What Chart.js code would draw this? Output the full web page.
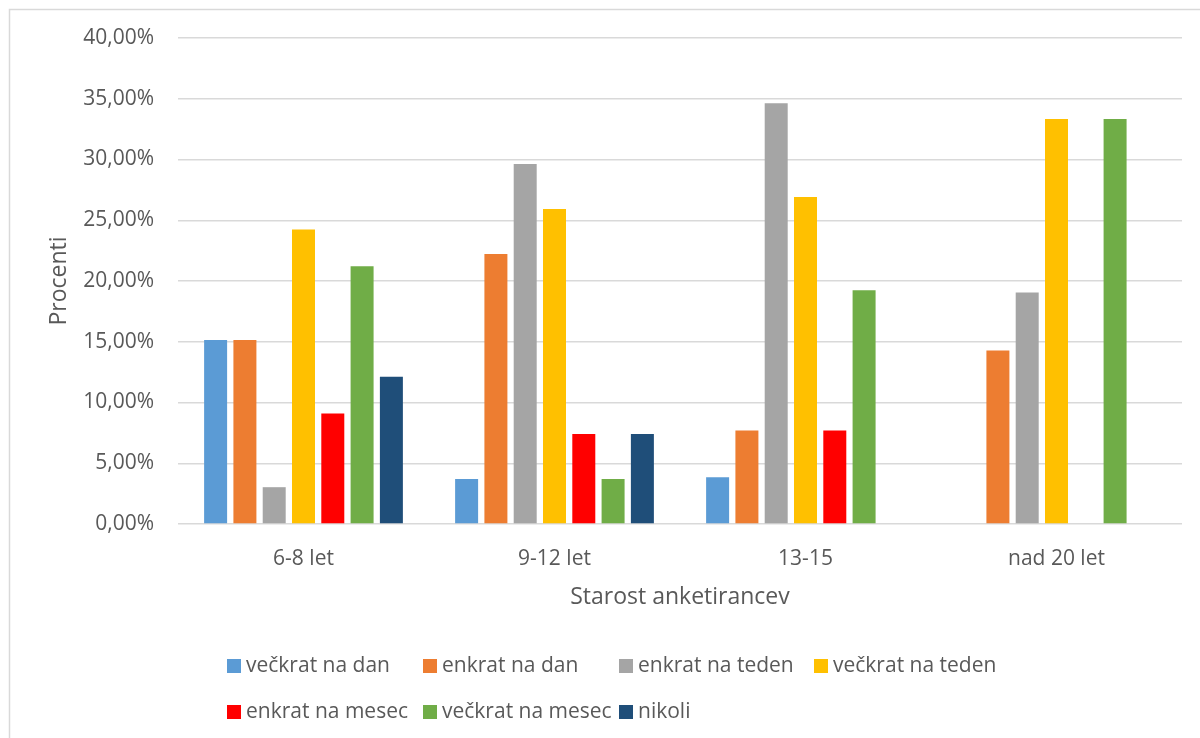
<!DOCTYPE html>
<html>
<head>
<meta charset="utf-8">
<script src="https://cdn.jsdelivr.net/npm/chart.js@4.4.1/dist/chart.umd.min.js"></script>
<style>
  html, body { margin: 0; padding: 0; background: #ffffff; }
  #graf { display: block; }
</style>
</head>
<body>
<canvas id="graf" width="1200" height="738"></canvas>
<script>
// starostne skupine
const skupine = ["6-8 let", "9-12 let", "13-15", "nad 20 let"];

// pogostost (odstotki anketirancev v skupini)
const veckratNaDan   = [15.15, 3.70, 3.85, 0];
const enkratNaDan    = [15.15, 22.22, 7.69, 14.29];
const enkratNaTeden  = [3.03, 29.63, 34.62, 19.05];
const veckratNaTeden = [24.24, 25.93, 26.92, 33.33];
const enkratNaMesec  = [9.09, 7.41, 7.69, 0];
const veckratNaMesec = [21.21, 3.70, 19.23, 33.33];
const nikoli         = [12.12, 7.41, 0, 0];

const oznake = ["večkrat na dan", "enkrat na dan", "enkrat na teden", "večkrat na teden",
                "enkrat na mesec", "večkrat na mesec", "nikoli"];
const barve = ["#5B9BD5", "#ED7D31", "#A5A5A5", "#FFC000", "#FF0000", "#70AD47", "#1F4E79"];
const vrednosti = [veckratNaDan, enkratNaDan, enkratNaTeden, veckratNaTeden,
                   enkratNaMesec, veckratNaMesec, nikoli];

const pisava = "'Open Sans', sans-serif";
const siva = "#595959";

// okvir okrog grafa
const okvir = {
    id: "okvir",
    beforeDraw(chart) {
        const ctx = chart.ctx;
        ctx.save();
        ctx.fillStyle = "#ffffff";
        ctx.fillRect(0, 0, chart.width, chart.height);
        ctx.strokeStyle = "#d9d9d9";
        ctx.lineWidth = 1.5;
        ctx.strokeRect(9.5, 9.5, 1400, 900);
        ctx.restore();
    }
};

// legenda v dveh vrsticah pod grafom, stolpci so enako široki
const legenda = {
    id: "legenda",
    afterDraw(chart) {
        const ctx = chart.ctx;
        const stolpci = [227, 423, 619, 814];
        const vrstice = [666, 712];
        ctx.save();
        ctx.font = "21px " + pisava;
        ctx.textBaseline = "middle";
        chart.data.datasets.forEach(function (ds, i) {
            const x = stolpci[i % 4];
            const y = vrstice[Math.floor(i / 4)];
            ctx.fillStyle = ds.backgroundColor;
            ctx.fillRect(x, y - 7, 14, 14);
            ctx.fillStyle = siva;
            ctx.fillText(ds.label, x + 19, y);
        });
        ctx.restore();
    }
};

const ctx = document.getElementById("graf").getContext("2d");

new Chart(ctx, {
    type: "bar",
    data: {
        labels: skupine,
        datasets: oznake.map(function (ime, i) {
            return {
                label: ime,
                data: vrednosti[i],
                backgroundColor: barve[i],
                borderWidth: 0,
                categoryPercentage: 0.817,
                barPercentage: 0.785
            };
        })
    },
    options: {
        responsive: false,
        animation: false,
        layout: {
            padding: { left: 0, right: 18, top: 38, bottom: 114 }
        },
        plugins: {
            legend: { display: false },
            tooltip: { enabled: false }
        },
        scales: {
            x: {
                grid: { display: false },
                border: { display: false },
                ticks: {
                    color: siva,
                    font: { family: pisava, size: 21 },
                    padding: 14
                },
                title: {
                    display: true,
                    text: "Starost anketirancev",
                    color: siva,
                    font: { family: pisava, size: 23 },
                    padding: { top: 0, bottom: 13 }
                },
                afterFit: function (scale) {
                    scale.height = 100;
                }
            },
            y: {
                min: 0,
                max: 40,
                grid: {
                    color: "#d9d9d9",
                    lineWidth: 1.5,
                    drawTicks: false
                },
                border: { display: false },
                ticks: {
                    stepSize: 5,
                    color: siva,
                    font: { family: pisava, size: 21 },
                    padding: 24,
                    callback: function (v) {
                        return v.toFixed(2).replace(".", ",") + "%";
                    }
                },
                title: {
                    display: true,
                    text: "Procenti",
                    color: siva,
                    font: { family: pisava, size: 23 },
                    padding: { top: 46, bottom: 0 }
                },
                afterFit: function (scale) {
                    scale.width = 178;
                }
            }
        }
    },
    plugins: [okvir, legenda]
});
</script>
</body>
</html>
